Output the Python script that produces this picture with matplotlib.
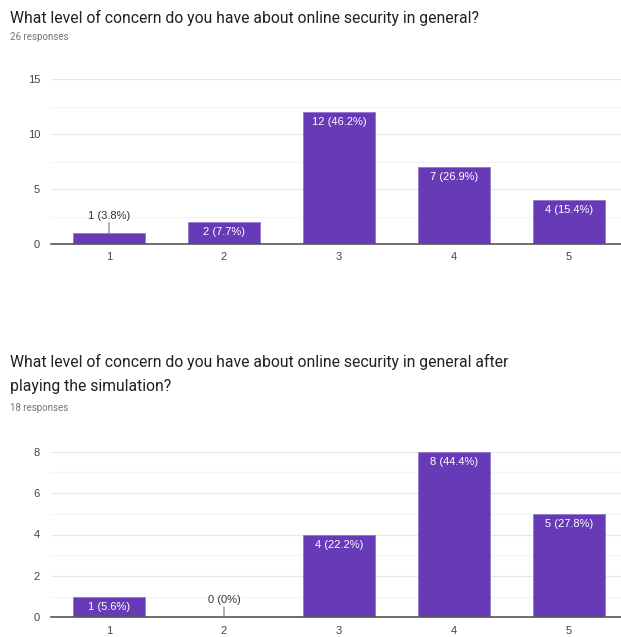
import matplotlib
matplotlib.use("Agg")
import matplotlib.pyplot as plt
from matplotlib.ticker import MultipleLocator

plt.rcParams['font.family'] = ['Roboto', 'DejaVu Sans']
CHART_FONT = ['Liberation Sans', 'DejaVu Sans']

# ---- data ----
categories = ["1", "2", "3", "4", "5"]
counts_before = [1, 2, 12, 7, 4]
pct_before = ["3.8%", "7.7%", "46.2%", "26.9%", "15.4%"]
counts_after = [1, 0, 4, 8, 5]
pct_after = ["5.6%", "0%", "22.2%", "44.4%", "27.8%"]
title_before = "What level of concern do you have about online security in general?"
resp_before = "26 responses"
title_after_1 = "What level of concern do you have about online security in general after"
title_after_2 = "playing the simulation?"
resp_after = "18 responses"

W, H = 621, 637
fig = plt.figure(figsize=(W / 100, H / 100), dpi=100)
fig.patch.set_facecolor("white")

BAR = "#673ab7"
TXT = "#212121"
GRAY = "#757575"


def fx(px):
    return px / W


def fy(py):
    return 1 - py / H


def draw(ax, counts, pcts, ymax, major, minor):
    x = list(range(1, len(categories) + 1))
    ax.bar(x, counts, width=0.626, color=BAR, edgecolor="#9575cd",
           linewidth=0.6, zorder=3)
    ax.set_xlim(0.5, 5.452)
    ax.set_ylim(0, ymax)
    ax.yaxis.set_major_locator(MultipleLocator(major))
    ax.yaxis.set_minor_locator(MultipleLocator(minor))
    ax.grid(which="major", axis="y", color="#e8e8e8", linewidth=0.9, zorder=0)
    ax.grid(which="minor", axis="y", color="#f4f4f4", linewidth=0.9, zorder=0)
    for s in ["top", "right", "left"]:
        ax.spines[s].set_visible(False)
    ax.spines["bottom"].set_color("#555555")
    ax.spines["bottom"].set_linewidth(1.2)
    ax.spines["bottom"].set_zorder(4)
    ax.set_xticks(x)
    ax.set_xticklabels(categories)
    ax.tick_params(axis="both", which="both", length=0, labelsize=8,
                   labelcolor="#444444")
    for lbl in ax.get_xticklabels() + ax.get_yticklabels():
        lbl.set_family(CHART_FONT)
    ax.tick_params(axis="y", pad=8.3)
    ax.tick_params(axis="x", pad=6)
    for xi, c, p in zip(x, counts, pcts):
        lab = f"{c} ({p})"
        if c / ymax < 0.1:
            ax.annotate("", xy=(xi, c), xytext=(0, 7.5),
                        textcoords="offset points",
                        arrowprops=dict(arrowstyle="-", color="#777777",
                                        lw=0.8, shrinkA=0, shrinkB=0),
                        zorder=5)
            ax.annotate(lab, xy=(xi, c), xytext=(0, 12.3),
                        textcoords="offset points", ha="center", va="center",
                        fontsize=8, color="#333333", zorder=5,
                        family=CHART_FONT)
        else:
            ax.annotate(lab, xy=(xi, c), xytext=(0, -7.2),
                        textcoords="offset points", ha="center", va="center",
                        fontsize=8, color="white", zorder=5,
                        family=CHART_FONT)


# top chart
ax1 = fig.add_axes([fx(51.5), fy(244), fx(621 - 51.5), (244 - 79) / H])
draw(ax1, counts_before, pct_before, 15, 5, 2.5)

# bottom chart
ax2 = fig.add_axes([fx(51.5), fy(617.3), fx(621 - 51.5), (617.3 - 451.7) / H])
draw(ax2, counts_after, pct_after, 8, 2, 1)

TS = 11.3
fig.text(fx(10), fy(18), title_before, fontsize=TS, color=TXT,
         ha="left", va="center")
fig.text(fx(10), fy(37), resp_before, fontsize=7, color=GRAY,
         ha="left", va="center")
fig.text(fx(10), fy(362), title_after_1, fontsize=TS, color=TXT,
         ha="left", va="center")
fig.text(fx(10), fy(386), title_after_2, fontsize=TS, color=TXT,
         ha="left", va="center")
fig.text(fx(10), fy(408), resp_after, fontsize=7, color=GRAY,
         ha="left", va="center")

fig.savefig("out.png", dpi=100, facecolor="white")
